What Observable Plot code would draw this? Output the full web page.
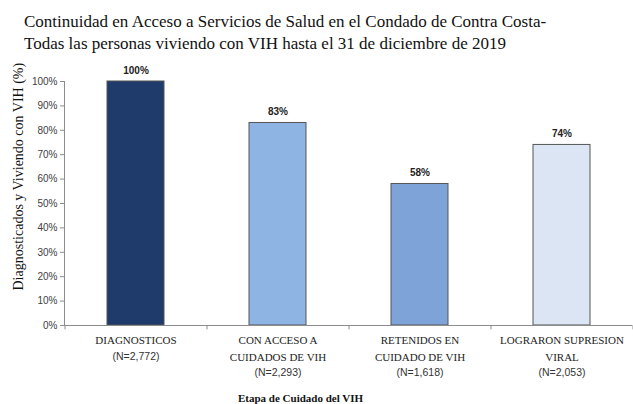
<!DOCTYPE html>
<html>
<head>
<meta charset="utf-8">
<script src="https://cdn.jsdelivr.net/npm/d3@7"></script>
<script src="https://cdn.jsdelivr.net/npm/@observablehq/plot@0.6"></script>
<style>
  html, body { margin: 0; padding: 0; background: #fff; }
  #title { height: 58px; box-sizing: border-box; padding: 11px 0 0 24px; font-family: "Liberation Serif", "Times New Roman", Times, "DejaVu Serif", serif; font-size: 17px; line-height: 22px; color: #111; }
  svg { display: block; }
</style>
</head>
<body>
<div id="title">Continuidad en Acceso a Servicios de Salud en el Condado de Contra Costa-<br>Todas las personas viviendo con VIH hasta el 31 de diciembre de 2019</div>
<div id="chart"></div>
<script>
const categories = ["DIAGNOSTICOS", "CON ACCESO A\nCUIDADOS DE VIH", "RETENIDOS EN\nCUIDADO DE VIH", "LOGRARON SUPRESION\nVIRAL"];
const counts = ["(N=2,772)", "(N=2,293)", "(N=1,618)", "(N=2,053)"];
const values = [1.00, 0.83, 0.58, 0.74];
const valueLabels = ["100%", "83%", "58%", "74%"];
const barColors = ["#1f3b6c", "#8db4e3", "#7ea3d8", "#dbe5f3"];
const yTicks = [0, 0.1, 0.2, 0.3, 0.4, 0.5, 0.6, 0.7, 0.8, 0.9, 1.0];
const yLabel = "Diagnosticados y Viviendo con VIH (%)";
const xLabel = "Etapa de Cuidado del VIH";

const data = categories.map((c, i) => ({
  cat: c, n: counts[i], value: values[i], label: valueLabels[i], color: barColors[i],
  lines: c.split("\n").length
}));

const serif = "'Liberation Serif', 'Times New Roman', Times, 'DejaVu Serif', serif";
const sans = "'Liberation Sans', Arial, sans-serif";
const axisGray = "#8c8c8c";

const chart = Plot.plot({
  width: 633,
  height: 346,
  marginTop: 23,
  marginBottom: 79,
  marginLeft: 64,
  marginRight: 1,
  style: { background: "#fff", overflow: "visible" },
  x: { domain: categories, paddingInner: 0.6, paddingOuter: 0.3, axis: null },
  y: { domain: [0, 1], axis: null },
  marks: [
    Plot.barY(data, { x: "cat", y: "value", fill: "color", stroke: "#555", strokeWidth: 1 }),
    Plot.ruleY([0], { stroke: axisGray }),
    Plot.ruleX(data, { x: "cat", dx: -71, y1: 0, y2: -0.018, stroke: axisGray }),
    Plot.ruleX(data.slice(-1), { x: "cat", dx: 71, y1: 0, y2: -0.018, stroke: axisGray }),
    Plot.frame({ anchor: "left", stroke: axisGray }),
    Plot.axisY(yTicks, { tickFormat: d3.format(".0%"), tickSize: 4, tickPadding: 3, fontSize: 10, fontFamily: sans, fill: "#404040", stroke: axisGray, label: null }),
    Plot.text(data, { x: "cat", y: "value", text: "label", lineAnchor: "middle", dy: -11, fontSize: 10, fontWeight: "bold", fontFamily: sans, fill: "#222" }),
    Plot.text(data, { x: "cat", y: 0, text: "cat", lineAnchor: "top", dy: 6, fontSize: 11, lineHeight: 1.55, fontFamily: serif, fill: "#222" }),
    Plot.text(data, { filter: d => d.lines === 1, x: "cat", y: 0, text: "n", lineAnchor: "middle", dy: 31, fontSize: 10.5, fontFamily: sans, fill: "#333" }),
    Plot.text(data, { filter: d => d.lines === 2, x: "cat", y: 0, text: "n", lineAnchor: "middle", dy: 47, fontSize: 10.5, fontFamily: sans, fill: "#333" }),
    Plot.text([yLabel], { y: 0.61, frameAnchor: "left", textAnchor: "middle", lineAnchor: "middle", text: d => d, rotate: -90, dx: -46, fontSize: 14, fontFamily: serif, fill: "#111" }),
    Plot.text([xLabel], { frameAnchor: "bottom", text: d => d, dx: -48, dy: 73, lineAnchor: "middle", fontSize: 11, fontWeight: "bold", fontFamily: serif, fill: "#111" })
  ]
});
document.getElementById("chart").appendChild(chart);
</script>
</body>
</html>
